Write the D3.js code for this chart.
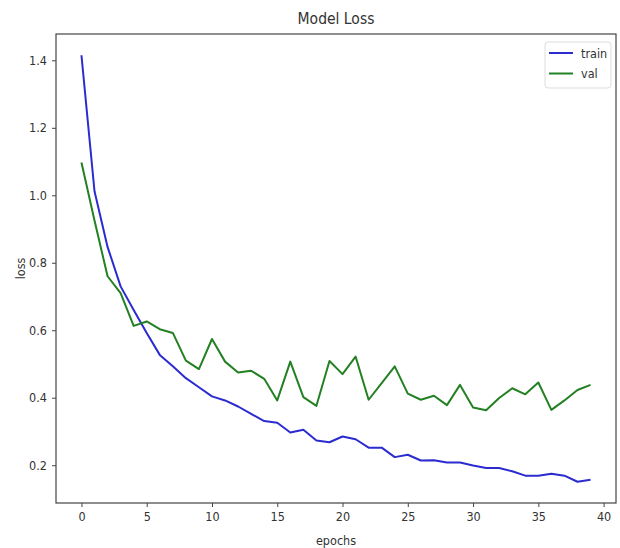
<!DOCTYPE html>
<html>
<head>
<meta charset="utf-8">
<script src="https://cdn.jsdelivr.net/npm/d3@7"></script>
<style>
  body { margin: 0; background: #fff; }
  svg text { font-family: "DejaVu Sans Condensed", "DejaVu Sans", sans-serif; font-stretch: condensed; fill: #333; }
</style>
</head>
<body>
<div id="chart"></div>
<script>
// loss per epoch
var epochs = d3.range(0, 40);
var trainLoss = [1.415, 1.012, 0.847, 0.73, 0.66, 0.592, 0.527, 0.493, 0.458, 0.431,
  0.404, 0.392, 0.374, 0.352, 0.331, 0.326, 0.297, 0.305, 0.273, 0.268,
  0.285, 0.277, 0.252, 0.252, 0.224, 0.231, 0.214, 0.215, 0.208, 0.208,
  0.199, 0.192, 0.192, 0.182, 0.169, 0.169, 0.175, 0.169, 0.151, 0.157];
var valLoss = [1.097, 0.925, 0.76, 0.71, 0.613, 0.626, 0.603, 0.592, 0.51, 0.485,
  0.574, 0.507, 0.475, 0.48, 0.456, 0.392, 0.507, 0.402, 0.376, 0.509,
  0.47, 0.522, 0.394, 0.443, 0.493, 0.412, 0.394, 0.406, 0.378, 0.438,
  0.371, 0.363, 0.399, 0.428, 0.41, 0.445, 0.364, 0.392, 0.423, 0.438];
var xTicks = [0, 5, 10, 15, 20, 25, 30, 35, 40];
var yTicks = [0.2, 0.4, 0.6, 0.8, 1.0, 1.2, 1.4];
var seriesNames = ['train', 'val'];
var seriesColors = ['#2b2bd0', '#238023'];

var W = 620, H = 548;
var box = {left: 56, right: 616, top: 34, bottom: 503};
var font = '"DejaVu Sans Condensed", "DejaVu Sans", sans-serif';

var svg = d3.select('#chart').append('svg')
  .attr('width', W)
  .attr('height', H);

var x = d3.scaleLinear().domain([-1.95, 40.95]).range([box.left, box.right]);
var y = d3.scaleLinear().domain([0.088, 1.478]).range([box.bottom, box.top]);

// axes
var xAxis = svg.append('g')
  .attr('transform', 'translate(0,' + box.bottom + ')')
  .call(d3.axisBottom(x).tickValues(xTicks).tickSize(4).tickPadding(5).tickFormat(d3.format('d')));
var yAxis = svg.append('g')
  .attr('transform', 'translate(' + box.left + ',0)')
  .call(d3.axisLeft(y).tickValues(yTicks).tickSize(4).tickPadding(5).tickFormat(d3.format('.1f')));

[xAxis, yAxis].forEach(function (g) {
  g.select('.domain').remove();
  g.selectAll('.tick line').attr('stroke', '#444');
  g.selectAll('.tick text').attr('font-size', 12.5).style('fill', '#333')
    .attr('font-family', font);
});

// frame
svg.append('rect')
  .attr('x', box.left).attr('y', box.top)
  .attr('width', box.right - box.left).attr('height', box.bottom - box.top)
  .attr('fill', 'none').attr('stroke', '#444').attr('stroke-width', 1.2);

var line = d3.line()
  .x(function (d, i) { return x(epochs[i]); })
  .y(function (d) { return y(d); });

[trainLoss, valLoss].forEach(function (s, k) {
  svg.append('path')
    .datum(s)
    .attr('d', line)
    .attr('fill', 'none')
    .attr('stroke', seriesColors[k])
    .attr('stroke-width', 2)
    .attr('stroke-linejoin', 'round');
});

// title and labels
svg.append('text')
  .attr('x', (box.left + box.right) / 2).attr('y', 24)
  .attr('text-anchor', 'middle').attr('font-size', 15.5)
  .text('Model Loss');
svg.append('text')
  .attr('x', (box.left + box.right) / 2).attr('y', 545)
  .attr('text-anchor', 'middle').attr('font-size', 12.5)
  .text('epochs');
svg.append('text')
  .attr('transform', 'translate(25,' + ((box.top + box.bottom) / 2) + ') rotate(-90)')
  .attr('text-anchor', 'middle').attr('font-size', 12.5)
  .text('loss');

// legend
var legend = svg.append('g').attr('transform', 'translate(545,42)');
legend.append('rect')
  .attr('width', 66).attr('height', 46).attr('rx', 3)
  .attr('fill', '#fff').attr('stroke', '#ddd');
seriesNames.forEach(function (name, k) {
  var row = legend.append('g').attr('transform', 'translate(0,' + (11 + k * 20.5) + ')');
  row.append('line')
    .attr('x1', 4).attr('x2', 28)
    .attr('stroke', seriesColors[k]).attr('stroke-width', 2);
  row.append('text')
    .attr('x', 36).attr('y', 4.5).attr('font-size', 12.5)
    .text(name);
});
</script>
</body>
</html>
